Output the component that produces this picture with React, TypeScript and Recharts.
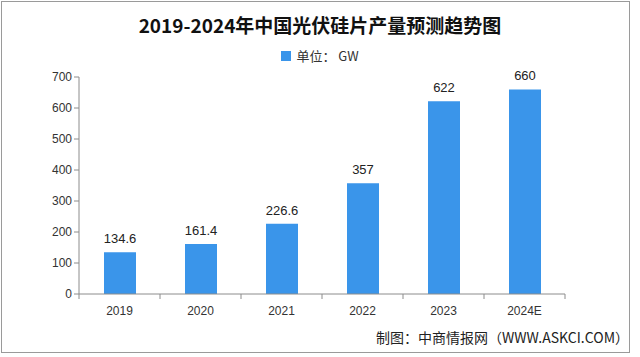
import React from "react";
import { BarChart, Bar, XAxis, YAxis, LabelList } from "recharts";

const categories = ["2019", "2020", "2021", "2022", "2023", "2024E"];
const output = [134.6, 161.4, 226.6, 357, 622, 660];
const yTicks = [0, 100, 200, 300, 400, 500, 600, 700];

const data = categories.map((c, i) => ({ year: c, value: output[i] }));

const W = 640;
const H = 357;
const SANS = "'Liberation Sans', Arial, sans-serif";
const CJK = "'Noto Sans CJK SC', 'Liberation Sans', sans-serif";

const XTick = (props: any) => {
  const { x, y, payload, index, visibleTicksCount } = props;
  const half = payload && payload.offset ? payload.offset : 40.5;
  const last = index === (visibleTicksCount ? visibleTicksCount - 1 : categories.length - 1);
  return (
    <g>
      <line x1={x - half} x2={x - half} y1={y - 8} y2={y - 3} stroke="#8c8c8c" />
      {last && <line x1={x + half} x2={x + half} y1={y - 8} y2={y - 3} stroke="#8c8c8c" />}
      <text x={x} y={y + 13} textAnchor="middle" fontSize={12} fill="#333" fontFamily={SANS}>
        {payload.value}
      </text>
    </g>
  );
};

export default function App() {
  return (
    <div style={{ position: "fixed", left: 0, top: 0, width: W, height: H, background: "#fff" }}>
      <div
        style={{
          position: "absolute",
          left: 1,
          top: 1,
          width: 629,
          height: 352,
          border: "1px solid #9a9a9a",
          boxSizing: "border-box",
        }}
      />
      <div
        style={{
          position: "absolute",
          left: 0,
          top: 12,
          width: W,
          textAlign: "center",
          fontFamily: CJK,
          fontWeight: 700,
          fontSize: 19,
          color: "#111",
          lineHeight: "26px",
        }}
      >
        2019-2024年中国光伏硅片产量预测趋势图
      </div>
      <div
        style={{
          position: "absolute",
          left: 0,
          top: 46,
          width: W,
          display: "flex",
          justifyContent: "center",
          alignItems: "center",
          fontFamily: CJK,
          fontSize: 13,
          color: "#333",
          lineHeight: "20px",
        }}
      >
        <span style={{ display: "inline-block", width: 10, height: 10, background: "#3a95ea", marginRight: 5 }} />
        <span>单位： GW</span>
      </div>
      <div
        style={{
          position: "absolute",
          right: 11,
          top: 326,
          fontFamily: CJK,
          fontSize: 14,
          color: "#222",
          lineHeight: "22px",
          whiteSpace: "nowrap",
        }}
      >
        制图：中商情报网（WWW.ASKCI.COM）
      </div>
      <div style={{ position: "absolute", left: 0, top: 0 }}>
        <BarChart width={W} height={H} data={data} margin={{ top: 77, right: 75, bottom: 33, left: 0 }}>
          <XAxis
            dataKey="year"
            stroke="#8c8c8c"
            tickLine={false}
            tick={<XTick />}
            interval={0}
          />
          <YAxis
            width={79}
            domain={[0, 700]}
            ticks={yTicks}
            interval={0}
            stroke="#8c8c8c"
            tickSize={5}
            tick={{ fontSize: 12, fill: "#333", fontFamily: SANS }}
          />
          <Bar dataKey="value" fill="#3a95ea" barSize={32} isAnimationActive={false}>
            <LabelList dataKey="value" position="top" offset={9} fontSize={13} fill="#222" fontFamily={SANS} />
          </Bar>
        </BarChart>
      </div>
    </div>
  );
}
